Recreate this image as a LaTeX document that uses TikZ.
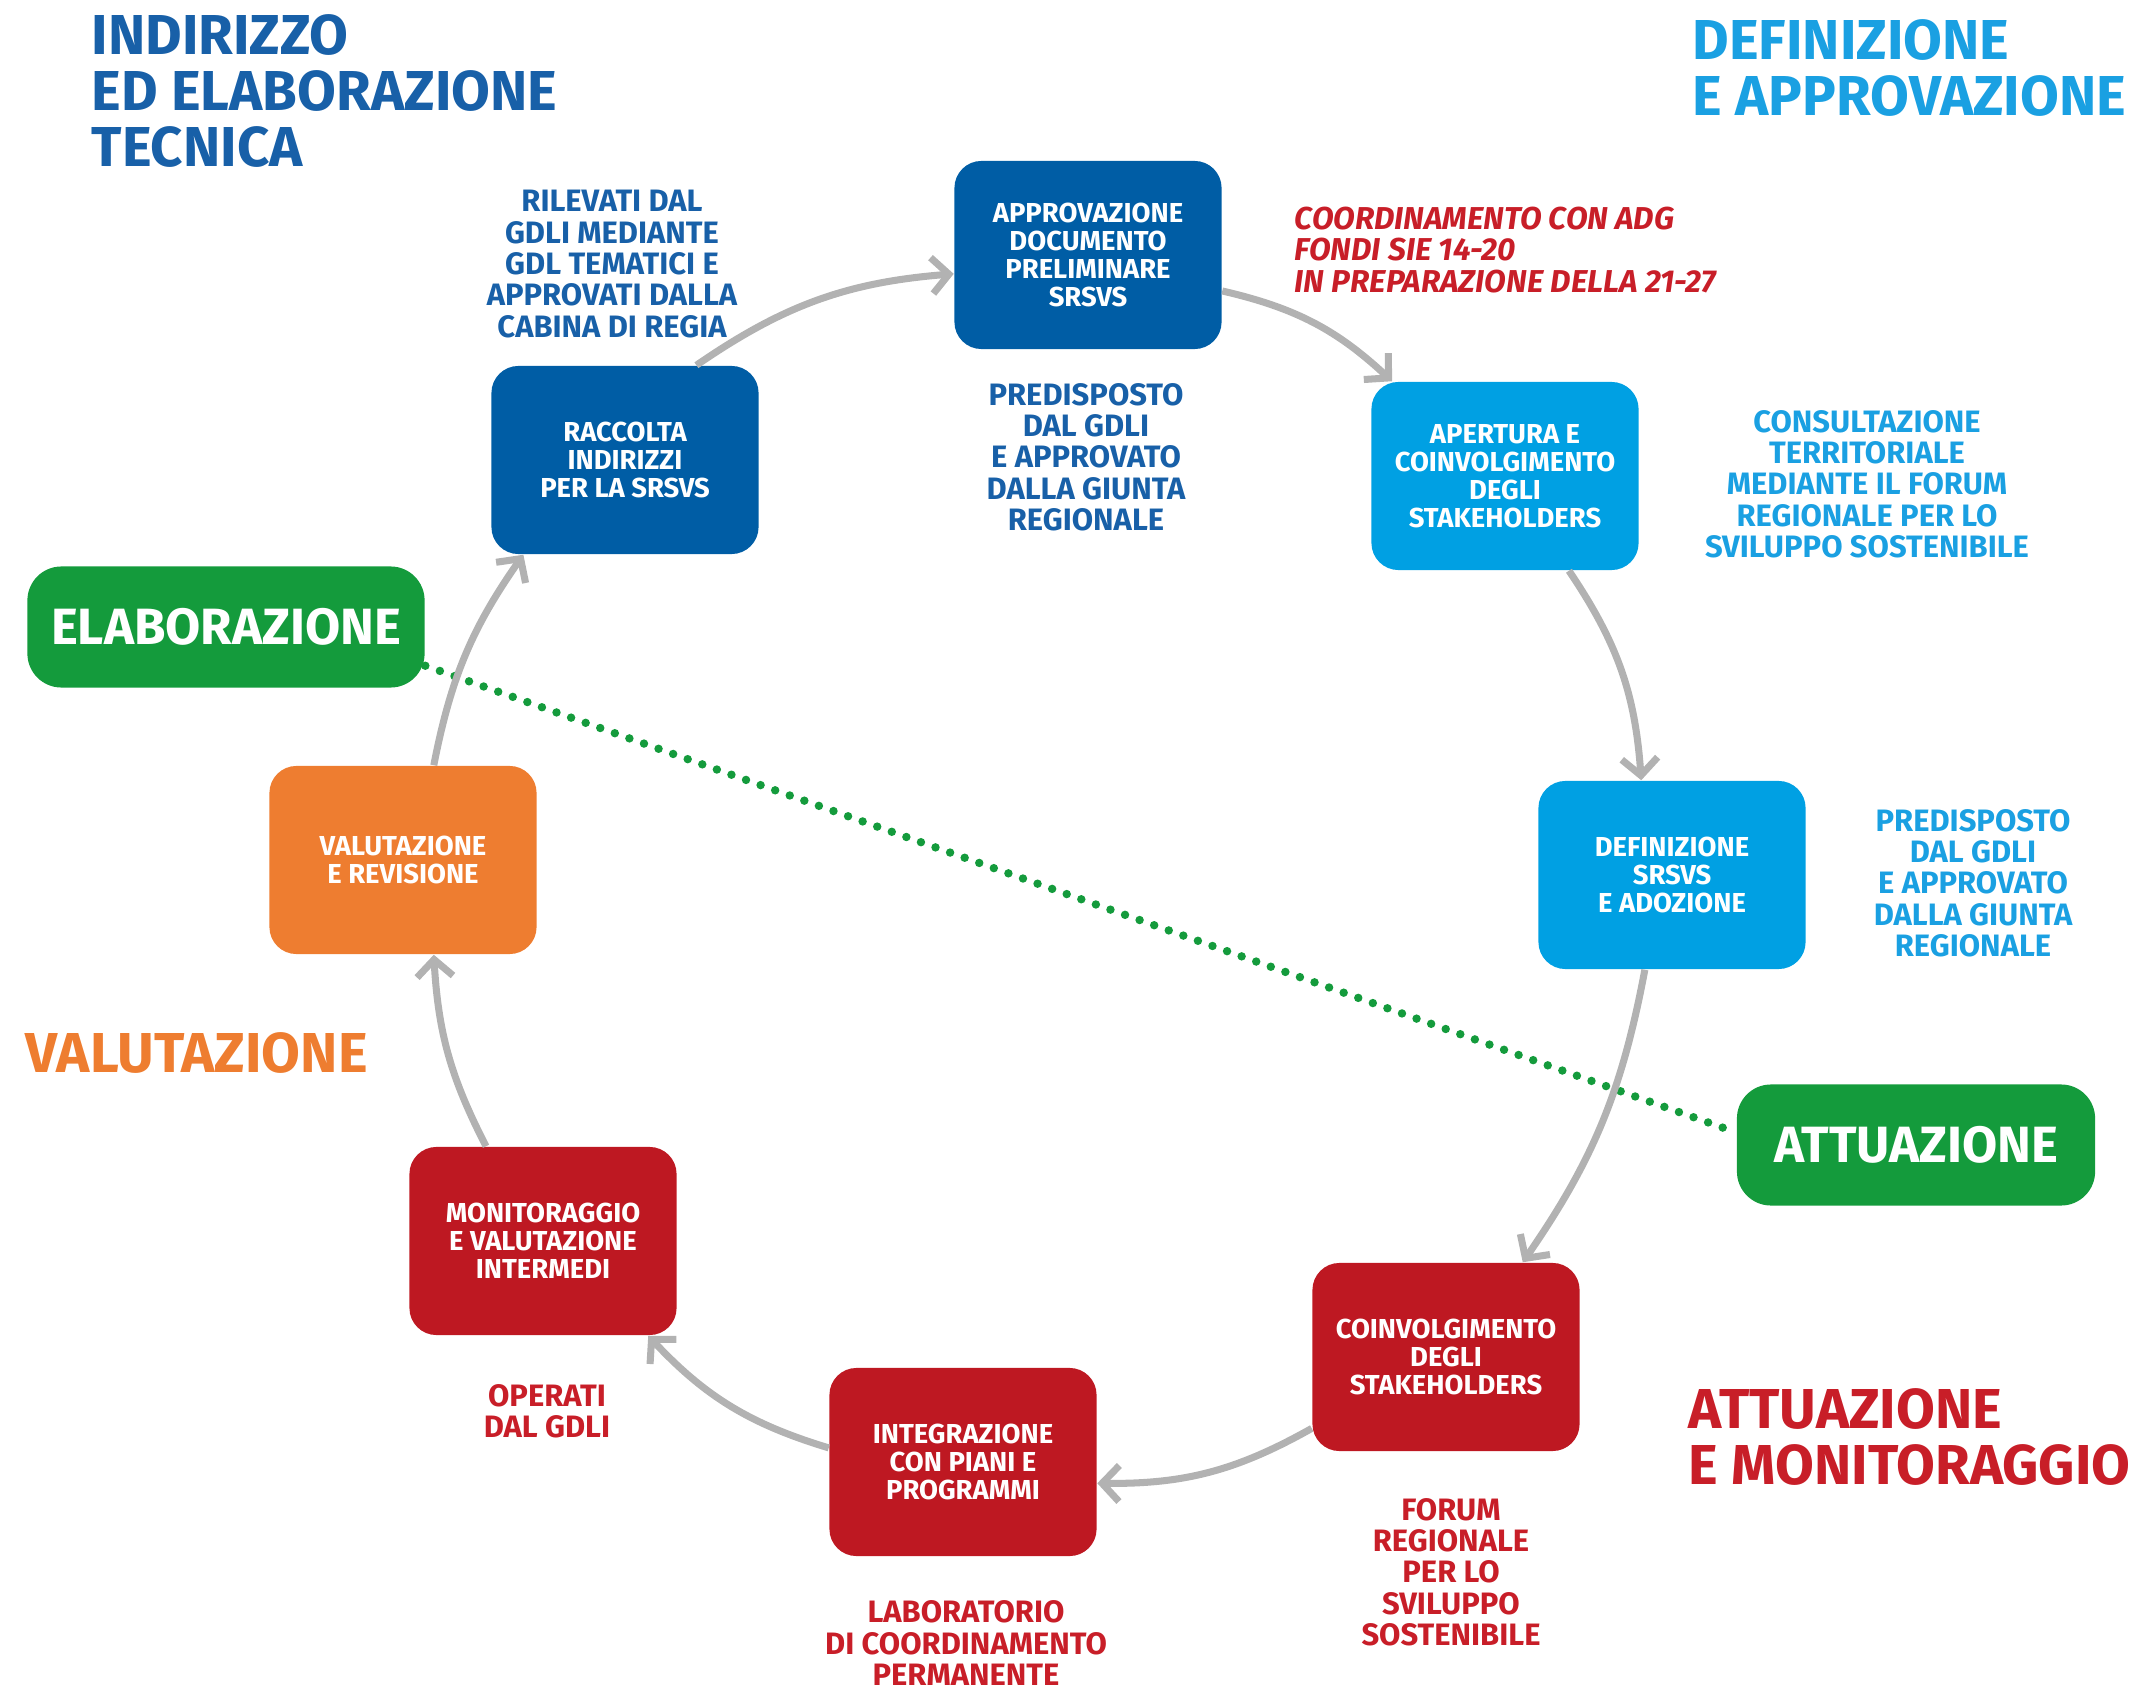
\documentclass[tikz,border=0pt]{standalone}
\usepackage{fontspec}
\setmainfont{Fira Sans}
\usepackage{tikz}
\usetikzlibrary{arrows.meta, positioning}
\definecolor{mynavy}{RGB}{0,93,165}
\definecolor{mysky}{RGB}{0,160,227}
\definecolor{myred}{RGB}{190,24,34}
\definecolor{myorange}{RGB}{238,125,48}
\definecolor{mygreen}{RGB}{20,155,60}
\definecolor{mygrey}{RGB}{178,178,178}
\definecolor{hdrnavy}{RGB}{24,96,168}
\definecolor{hdrsky}{RGB}{26,160,226}
\definecolor{hdrred}{RGB}{200,30,40}
\tikzset{
  stage/.style={rectangle, rounded corners=0.27cm,
    minimum width=2.67cm, minimum height=1.88cm, align=center,
    text=white, font=\bfseries\fontsize{7.8}{8}\selectfont},
  navystage/.style={stage, fill=mynavy},
  skystage/.style={stage, fill=mysky},
  redstage/.style={stage, fill=myred},
  orangestage/.style={stage, fill=myorange},
  phase/.style={rectangle, rounded corners=0.34cm, fill=mygreen,
    minimum height=1.21cm, text=white,
    font=\bfseries\fontsize{14.5}{15}\selectfont},
  notetext/.style={align=center, inner sep=0pt,
    font=\bfseries\fontsize{8.8}{8.9}\selectfont},
  heading/.style={align=left, inner sep=0pt, anchor=west,
    font=\bfseries\fontsize{16}{15.9}\selectfont},
  arrow/.style={-{Straight Barb[length=0.17cm, width=0.36cm]},
    line width=2pt, color=mygrey},
  dotline/.style={mygreen, line width=2.4pt, line cap=round,
    dash pattern=on 0pt off 4.4pt}
}
\begin{document}
\begin{tikzpicture}[x=0.01cm, y=-0.01cm]
  \useasboundingbox (0,0) rectangle (2140,1689);

  % Phase headings
  \node[heading, text=hdrnavy] (hind) at (91,91) {INDIRIZZO\\ED ELABORAZIONE\\TECNICA};
  \node[heading, text=hdrsky] (hdef) at (1692,68) {DEFINIZIONE\\E APPROVAZIONE};
  \node[heading, text=myorange] (hval) at (25,1053) {VALUTAZIONE};
  \node[heading, text=hdrred] (hatt) at (1688,1437) {ATTUAZIONE\\E MONITORAGGIO};

  % Cycle stages
  \node[navystage] (appr) at (1088,255) {APPROVAZIONE\\DOCUMENTO\\PRELIMINARE\\SRSVS};
  \node[navystage] (racc) at (625,460) {RACCOLTA\\INDIRIZZI\\PER LA SRSVS};
  \node[skystage] (aper) at (1505,476) {APERTURA E\\COINVOLGIMENTO\\DEGLI\\STAKEHOLDERS};
  \node[skystage] (defi) at (1672,875) {DEFINIZIONE\\SRSVS\\E ADOZIONE};
  \node[redstage] (coinv) at (1446,1357) {COINVOLGIMENTO\\DEGLI\\STAKEHOLDERS};
  \node[redstage] (integ) at (963,1462) {INTEGRAZIONE\\CON PIANI E\\PROGRAMMI};
  \node[redstage] (monit) at (543,1241) {MONITORAGGIO\\E VALUTAZIONE\\INTERMEDI};
  \node[orangestage] (valu) at (403,860) {VALUTAZIONE\\E REVISIONE};

  % Green phase labels and divider
  \node[phase, minimum width=3.97cm] (elab) at (226,627) {ELABORAZIONE};
  \node[phase, minimum width=3.58cm] (attu) at (1916,1145) {ATTUAZIONE};
  \draw[dotline] (elab.-11) -- (attu.176);

  % Notes
  \node[notetext, text=hdrnavy] (nracc) at (612,264) {RILEVATI DAL\\GDLI MEDIANTE\\GDL TEMATICI E\\APPROVATI DALLA\\CABINA DI REGIA};
  \node[notetext, text=hdrnavy] (nappr) at (1086,457) {PREDISPOSTO\\DAL GDLI\\E APPROVATO\\DALLA GIUNTA\\REGIONALE};
  \node[notetext, text=hdrred, align=left, anchor=west, font=\bfseries\itshape\fontsize{9}{8.9}\selectfont] (nadg) at (1294,250) {COORDINAMENTO CON ADG\\FONDI SIE 14-20\\IN PREPARAZIONE DELLA 21-27};
  \node[notetext, text=hdrsky] (naper) at (1867,484) {CONSULTAZIONE\\TERRITORIALE\\MEDIANTE IL FORUM\\REGIONALE PER LO\\SVILUPPO SOSTENIBILE};
  \node[notetext, text=hdrsky] (ndefi) at (1973,883) {PREDISPOSTO\\DAL GDLI\\E APPROVATO\\DALLA GIUNTA\\REGIONALE};
  \node[notetext, text=hdrred] (nmonit) at (547,1411) {OPERATI\\DAL GDLI};
  \node[notetext, text=hdrred] (ncoinv) at (1451,1572) {FORUM\\REGIONALE\\PER LO\\SVILUPPO\\SOSTENIBILE};
  \node[notetext, text=hdrred] (ninteg) at (966,1643) {LABORATORIO\\DI COORDINAMENTO\\PERMANENTE};

  % Cycle arrows
  \draw[arrow] (racc.53) to[bend left=15] (appr.188);
  \draw[arrow] (appr.-15) to[bend left=15] (aper.140);
  \draw[arrow] (aper.-56) to[bend left=15] (defi.108);
  \draw[arrow] (defi.-106) to[bend left=12] (coinv.51);
  \draw[arrow] (coinv.208) to[bend left=15] (integ.-9);
  \draw[arrow] (integ.174) to[bend left=15] (monit.-42);
  \draw[arrow] (monit.121) to[bend left=12] (valu.-72);
  \draw[arrow] (valu.72) to[bend left=12] (racc.223);
\end{tikzpicture}
\end{document}
